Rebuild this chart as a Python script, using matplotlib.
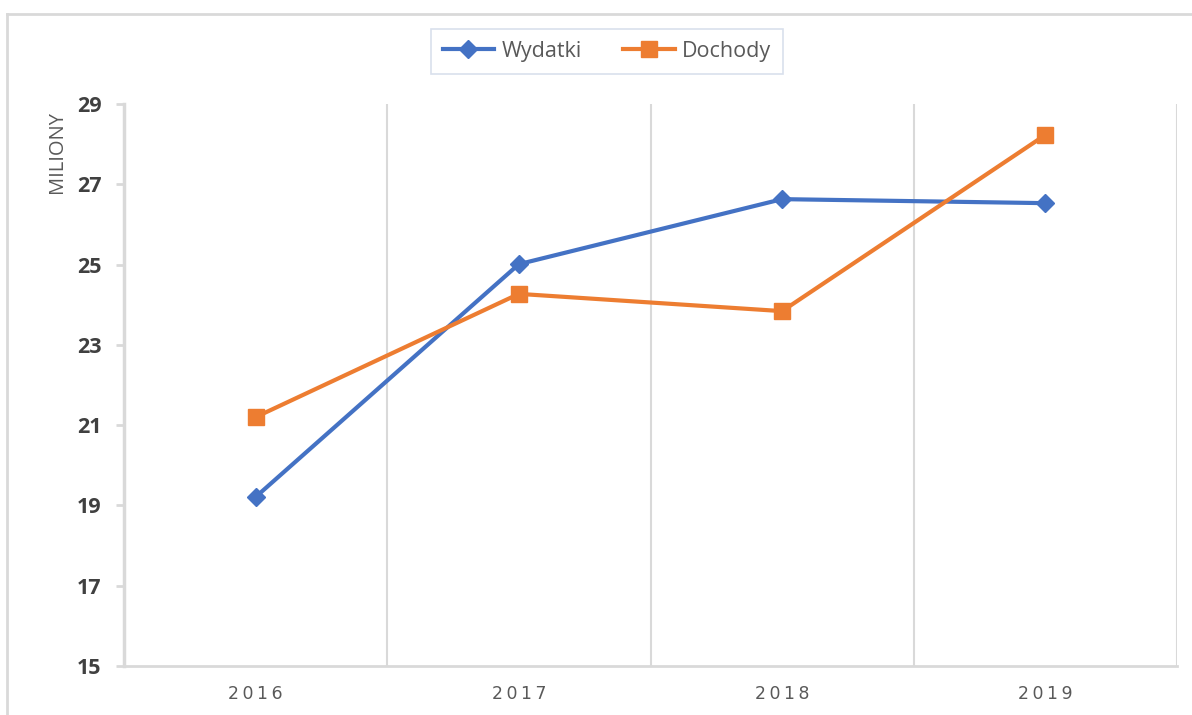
import matplotlib
matplotlib.use("Agg")
import matplotlib.pyplot as plt
from matplotlib.lines import Line2D

years = ["2016", "2017", "2018", "2019"]
wydatki = [19.21, 25.01, 26.63, 26.53]
dochody = [21.20, 24.27, 23.84, 28.23]
yticks = [15, 17, 19, 21, 23, 25, 27, 29]

BLUE = "#4472C4"
ORANGE = "#ED7D31"
GRID = "#D9D9D9"

fig = plt.figure(figsize=(11.92, 7.15), dpi=100)
ax = fig.add_axes([124/1192, 1-666/715, (1177-124)/1192, (666-104)/715])

x = list(range(len(years)))
ax.plot(x, wydatki, color=BLUE, lw=3.0, marker="D", ms=9.5, label="Wydatki", zorder=3)
ax.plot(x, dochody, color=ORANGE, lw=3.0, marker="s", ms=11.5, label="Dochody", zorder=3)

ax.set_xlim(-0.5, len(years) - 0.5)
ax.set_ylim(15, 29)
ax.set_yticks(yticks)
ax.set_yticklabels([str(v) for v in yticks], fontsize=15.5, fontweight="bold",
                   color="#404040", family="Open Sans")
ax.set_xticks(x)
ax.set_xticklabels(["\u2009".join(y) for y in years], fontsize=12.5,
                   color="#595959", family="DejaVu Sans")
ax.tick_params(axis="x", length=0, pad=14)
ax.tick_params(axis="y", length=6, width=2, color=GRID, pad=10)

for b in [0.5, 1.5, 2.5, 3.5]:
    ax.axvline(b, color=GRID, lw=1.5, zorder=1)

for s in ["top", "right"]:
    ax.spines[s].set_visible(False)
ax.spines["left"].set_color(GRID)
ax.spines["left"].set_linewidth(2.5)
ax.spines["bottom"].set_color(GRID)
ax.spines["bottom"].set_linewidth(2)

fig.text(57/1192, 1-152/715, "MILIONY", rotation=90, ha="center", va="center",
         fontsize=14.5, color="#595959", family="Open Sans")

leg = fig.legend(loc="center", bbox_to_anchor=(607/1192, 1-51.5/715), ncol=2,
                 frameon=True, fancybox=False, handlelength=2.4, handletextpad=0.35,
                 columnspacing=1.9, borderpad=0.55, borderaxespad=0,
                 prop={"family": "Open Sans", "size": 15.5})
leg.get_frame().set_edgecolor("#D0D8E8")
leg.get_frame().set_linewidth(1.2)
for t in leg.get_texts():
    t.set_color("#595959")

# outer frame lines (top and left)
fig.add_artist(Line2D([7/1192, 1.0], [1-14/715, 1-14/715], color=GRID, lw=2, transform=fig.transFigure))
fig.add_artist(Line2D([7/1192, 7/1192], [0, 1-14/715], color=GRID, lw=2, transform=fig.transFigure))

fig.savefig("out.png", dpi=100)
